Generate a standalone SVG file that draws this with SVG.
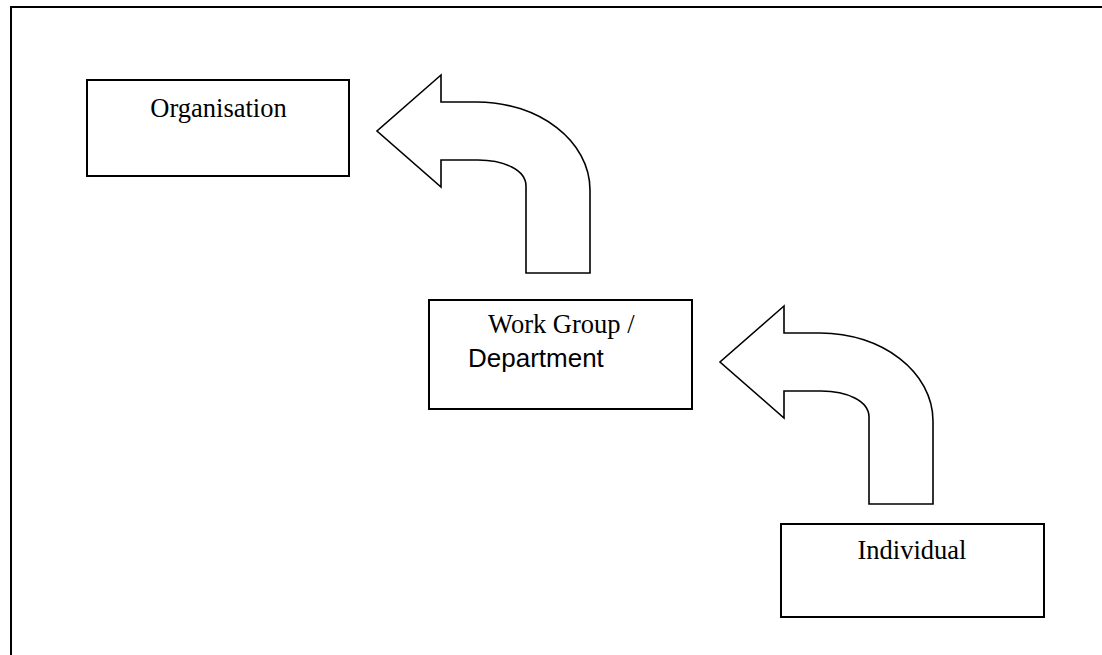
<svg xmlns="http://www.w3.org/2000/svg" width="1102" height="655" viewBox="0 0 1102 655">
<style>
.box{fill:#fff;stroke:#000;stroke-width:2}
.arrow{fill:#fff;stroke:#000;stroke-width:1.6;stroke-linejoin:miter}
.t{font-family:"Liberation Serif",serif;font-size:26.5px;fill:#000}
.a{font-family:"Liberation Sans",sans-serif;font-size:26px;fill:#000}
</style>
<defs>
<path id="curved" d="M441,75 L377,131 L441,187 L441,160 L478,160 C504,160 526,170 526,186 L526,273 L590,273 L590,190 C590,141 539,102 477,102 L441,102 Z"/>
</defs>
<rect width="1102" height="655" fill="#fff"/>
<path d="M11,655 L11,7 L1102,7" fill="none" stroke="#000" stroke-width="2"/>
<g id="connectors">
<use href="#curved" class="arrow"/>
<use href="#curved" class="arrow" transform="translate(343,231)"/>
</g>
<g id="organisation">
<rect class="box" x="87" y="80" width="262" height="96"/>
<text class="t" x="218.5" y="117" text-anchor="middle">Organisation</text>
</g>
<g id="workgroup">
<rect class="box" x="429" y="300" width="263" height="109"/>
<text class="t" x="488" y="333">Work Group /</text>
<text class="a" x="468" y="367">Department</text>
</g>
<g id="individual">
<rect class="box" x="781" y="524" width="263" height="93"/>
<text class="t" x="912" y="559" text-anchor="middle">Individual</text>
</g>
</svg>
